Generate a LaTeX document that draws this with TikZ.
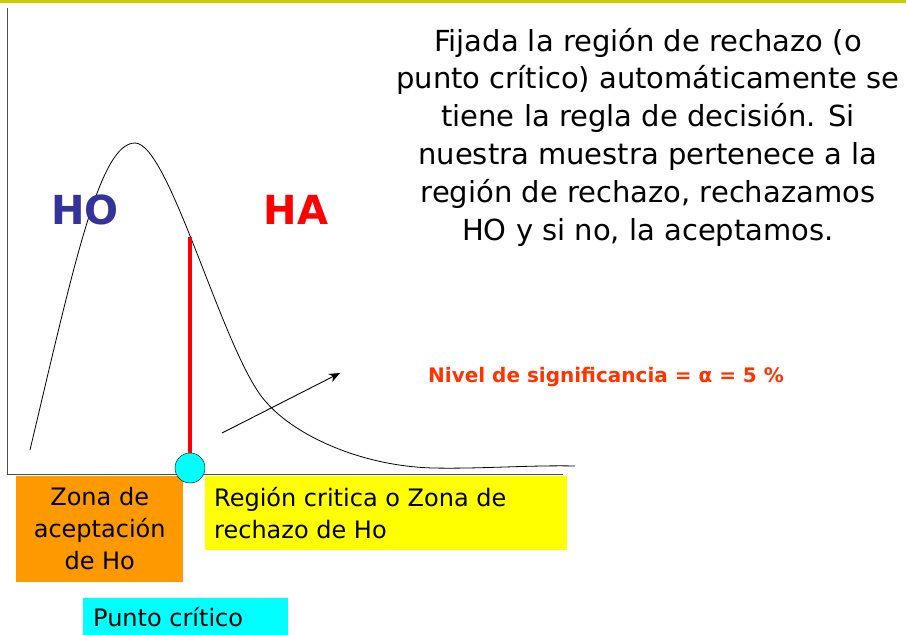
\documentclass[tikz,border=0pt]{standalone}
\usepackage{fontspec}
\setmainfont{DejaVu Sans}
\usetikzlibrary{positioning, arrows.meta}

\definecolor{olivebar}{RGB}{204,204,0}
\definecolor{hoblue}{RGB}{51,51,153}
\definecolor{sigred}{RGB}{255,51,0}
\definecolor{zonaorange}{RGB}{255,153,0}
\definecolor{puntocyan}{RGB}{0,255,255}
\definecolor{regionyellow}{RGB}{255,255,0}
\definecolor{purered}{RGB}{255,0,0}

\tikzset{
  zonebox/.style={inner sep=0pt, anchor=north west, draw=none},
  boxtext/.style={font=\fontsize{24}{32}\selectfont, inner sep=0pt},
  hyp/.style={font=\fontsize{40}{40}\selectfont\bfseries, inner sep=0pt},
}

\begin{document}
\begin{tikzpicture}[x=1pt, y=-1pt]
    \useasboundingbox (0,0) rectangle (906,635);
    \fill[olivebar] (0,0) rectangle (906,3);
    % axes
    \coordinate (O) at (7,474);
    \draw[black!70] (7,8) -- (O) -- (563,474);
    % density curve
    \draw[black, line width=0.8pt] (30,450) .. controls (75,260) and (100,143) .. (135,143)
        .. controls (170,143) and (225,360) .. (267,403)
        .. controls (295,435) and (360,466) .. (433,468)
        .. controls (480,469) and (530,465) .. (575,466);
    % labels of the hypotheses
    \node[hyp, text=hoblue] (ho) at (85,210) {HO};
    \node[hyp, text=purered] (ha) at (296,210) {HA};
    % boxes below the axis
    \node[zonebox, fill=zonaorange, minimum width=167, minimum height=106] (zona) at (16,476) {};
    \node[boxtext, align=center] (zonatxt) at ([yshift=1]zona.center) {Zona de\\aceptación\\de Ho};
    \node[zonebox, fill=regionyellow, minimum width=362, minimum height=74] (region) at (205,476) {};
    \node[boxtext, align=left, anchor=west] (regiontxt) at ([xshift=9]region.west) {Región critica o Zona de\\rechazo de Ho};
    \node[zonebox, fill=puntocyan, minimum width=205, minimum height=40] (punto) at (83,598) {};
    \node[boxtext, anchor=west] (puntotxt) at ([xshift=10, yshift=1]punto.west) {Punto crítico};
    % critical point
    \node[circle, draw=black, fill=puntocyan, minimum size=30, inner sep=0pt] (pc) at (190,468) {};
    \coordinate (top) at (190,237);
    \draw[purered, line width=4pt] (pc.north) -- (top);
    % significance level
    \node[font=\fontsize{20}{20}\selectfont\bfseries, text=sigred, anchor=west, inner sep=0pt] (nivel) at (428,377) {Nivel de significancia = α = 5 \%};
    \coordinate (a0) at (222,433);
    \coordinate (a1) at (340,373);
    \draw[-{Stealth[length=11pt, width=9pt]}, line width=0.9pt] (a0) -- (a1);
    % explanation
    \node[font=\fontsize{29}{37.8}\selectfont, align=center, inner sep=0pt] (regla) at (648,137) {Fijada la región de rechazo (o\\punto crítico) automáticamente se\\tiene la regla de decisión. Si\\nuestra muestra pertenece a la\\región de rechazo, rechazamos\\HO y si no, la aceptamos.};
\end{tikzpicture}
\end{document}
